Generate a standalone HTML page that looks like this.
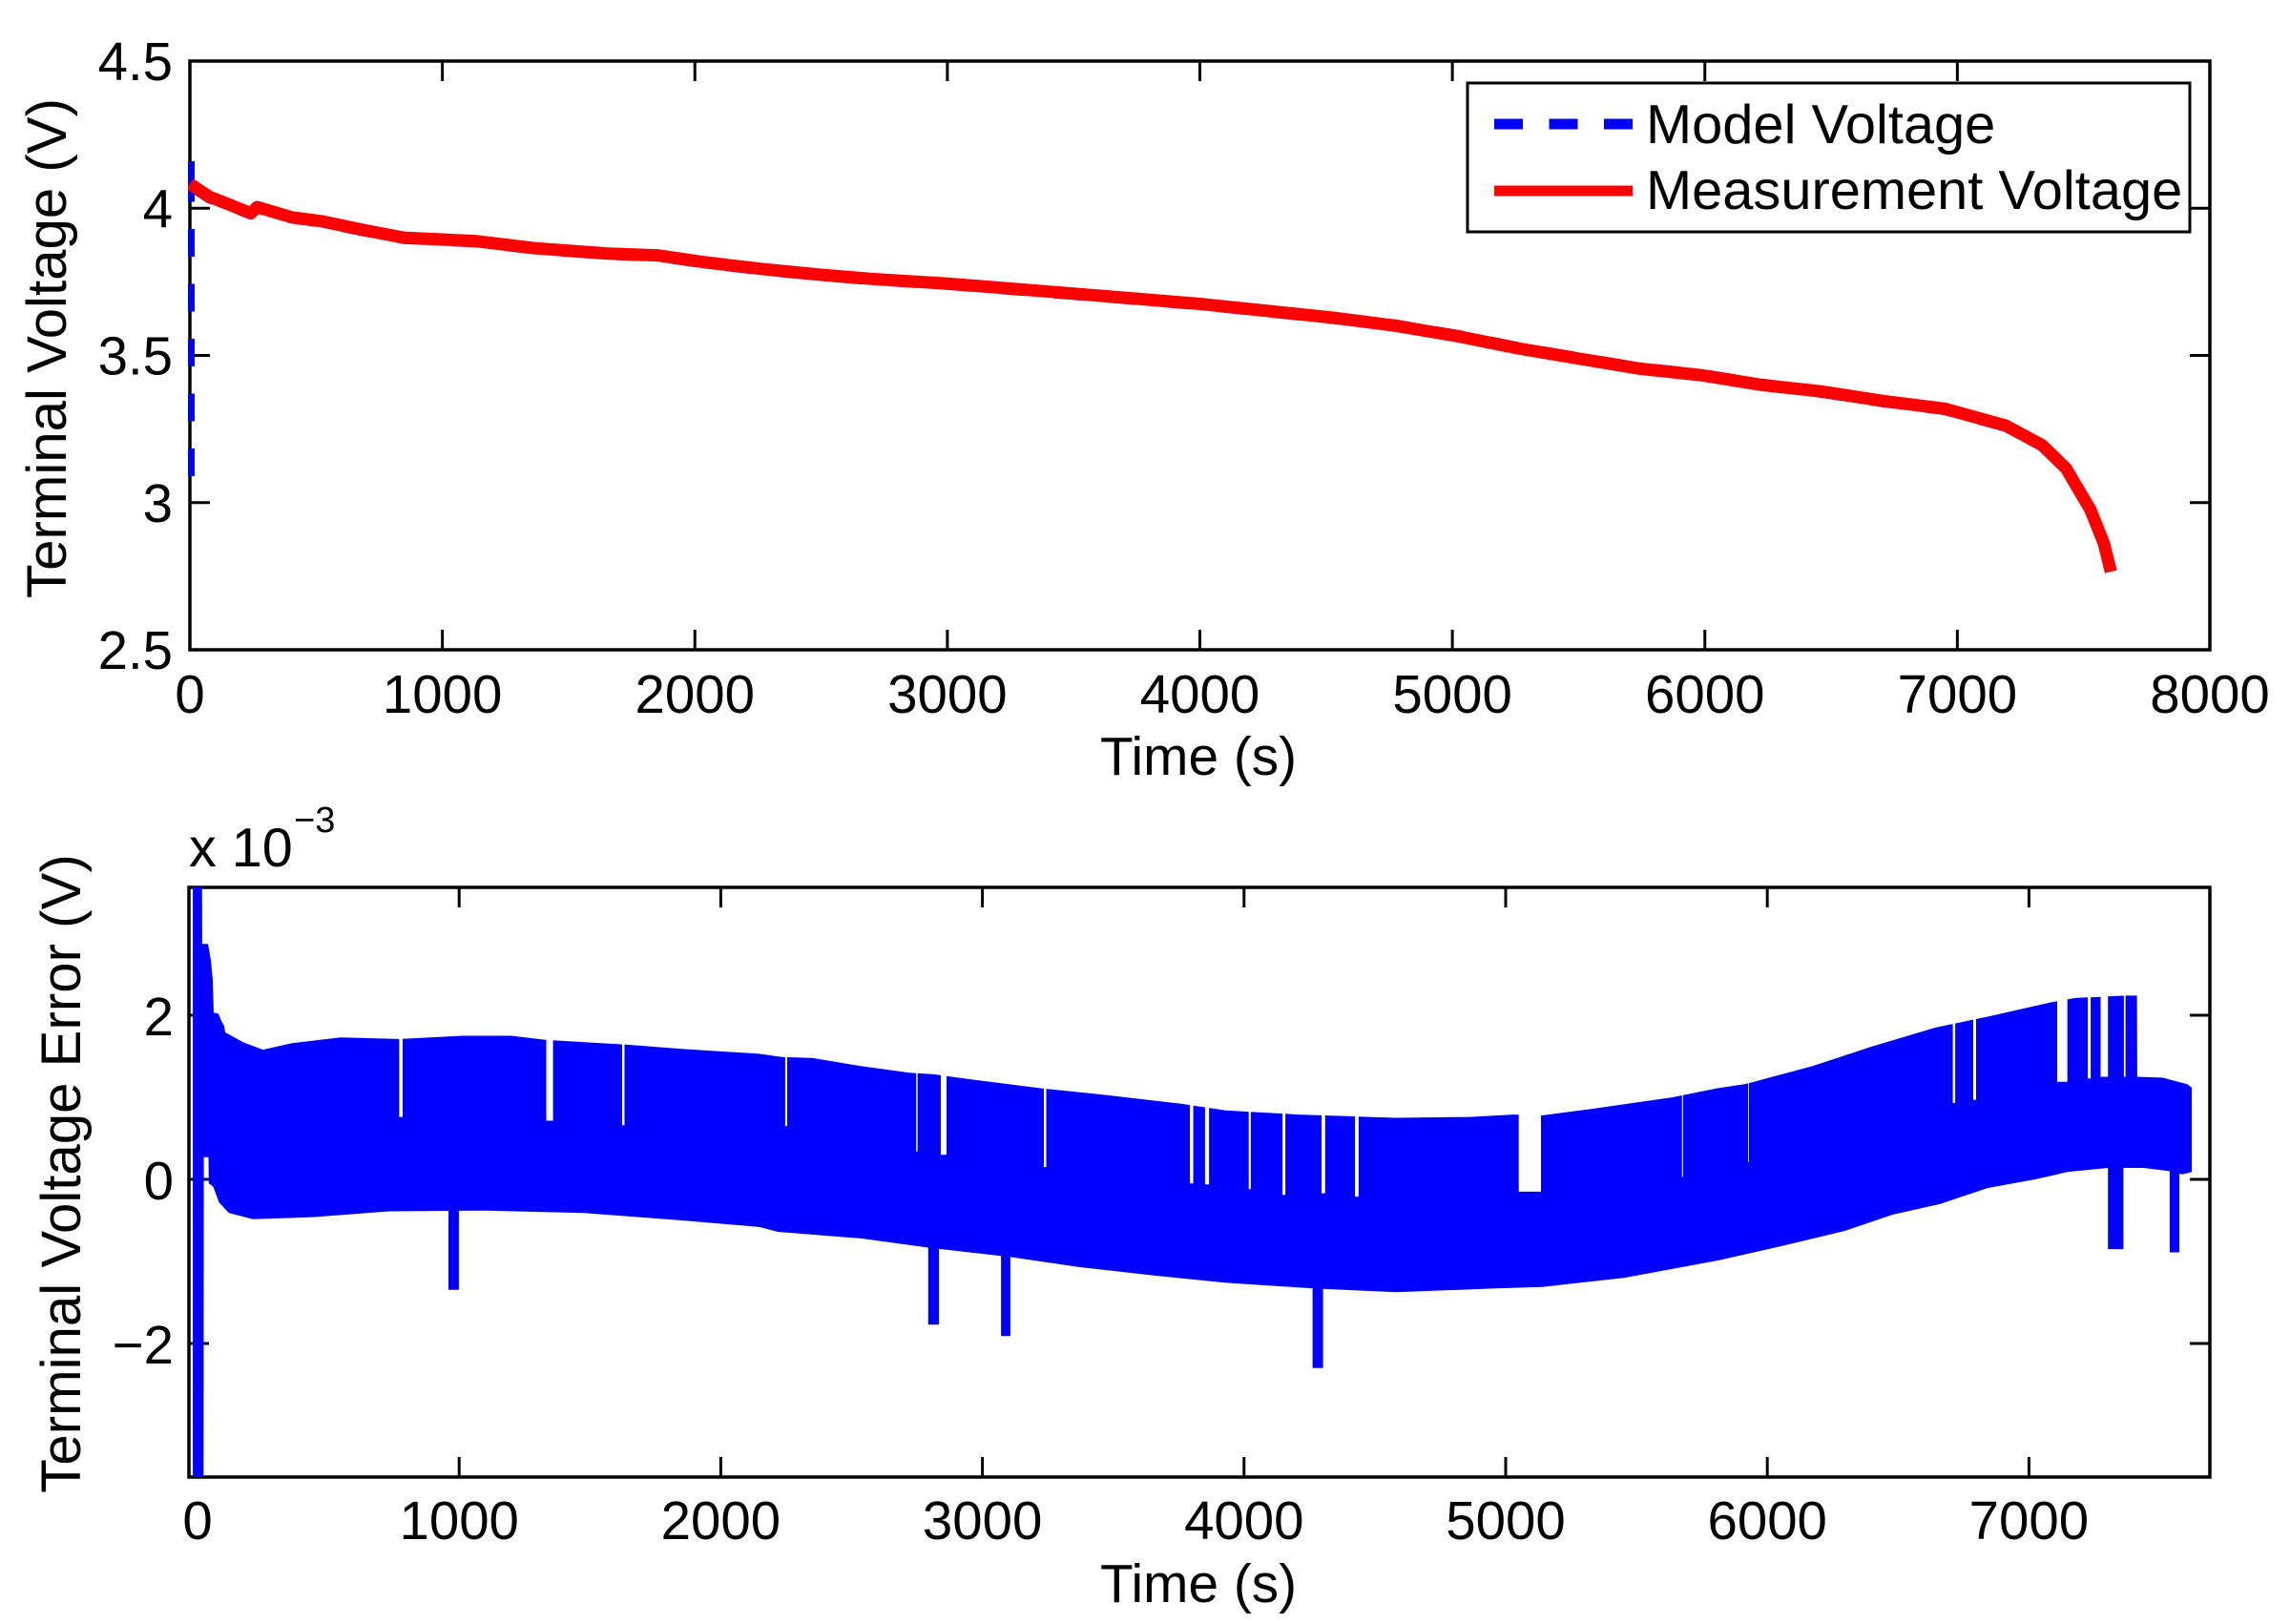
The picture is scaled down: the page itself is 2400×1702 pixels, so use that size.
<!DOCTYPE html>
<html lang="en">
<head>
<meta charset="utf-8">
<title>Terminal voltage and voltage error</title>
<style>
html,body{margin:0;padding:0;background:#fff;}
svg{display:block;}
text{font-family:"Liberation Sans",Arial,sans-serif;fill:#000;}
</style>
</head>
<body>
<svg id="figure" xmlns="http://www.w3.org/2000/svg" width="2400" height="1702" viewBox="0 0 2400 1702">
  <defs>
    <clipPath id="clip-top"><rect x="197" y="64" width="2119" height="617"/></clipPath>
    <clipPath id="clip-bottom"><rect x="199" y="930" width="2117" height="618"/></clipPath>
  </defs>
  <rect x="0" y="0" width="2400" height="1702" fill="#fff"/>
  <g id="top-chart"></g>
  <g id="bottom-chart"></g>
  <g id="legend">
    <rect x="1538" y="87" width="757" height="156" fill="#fff" stroke="#000" stroke-width="3"/>
    <line x1="1566" y1="130" x2="1711" y2="130" stroke="#0000ff" stroke-width="11" stroke-dasharray="30 27.5"/>
    <text x="1725" y="150" font-size="57.8">Model Voltage</text>
    <line x1="1566" y1="200" x2="1711" y2="200" stroke="#ff0000" stroke-width="11"/>
    <text x="1725" y="219" font-size="57.8">Measurement Voltage</text>
  </g>
</svg>
<script>
// ---- Top chart data ----
const topXTicks = [0, 1000, 2000, 3000, 4000, 5000, 6000, 7000, 8000];
const topYTicks = [2.5, 3, 3.5, 4, 4.5];
const topYTickLabels = ['2.5', '3', '3.5', '4', '4.5'];
const measureTime = [0, 77, 154, 241, 266, 405, 520, 694, 848, 1137, 1369, 1658, 1851, 2044, 2271, 2500, 2700, 3000, 3500, 4000, 4539, 4780, 5021, 5261, 5502, 5743, 5985, 6225, 6466, 6708, 6949, 7190, 7335, 7431, 7527, 7580, 7608];
const measureVolt = [4.083, 4.039, 4.013, 3.983, 4.004, 3.969, 3.956, 3.925, 3.90, 3.888, 3.864, 3.846, 3.84, 3.816, 3.793, 3.774, 3.76, 3.744, 3.71, 3.675, 3.627, 3.60, 3.565, 3.524, 3.489, 3.455, 3.433, 3.40, 3.377, 3.345, 3.319, 3.262, 3.196, 3.116, 2.976, 2.862, 2.765];
const modelStartTime = [0, 0];
const modelStartVolt = [3.09, 4.16];
const modelTime = [0, 77, 154, 241, 266, 405, 520, 694, 848, 1137, 1369, 1658, 1851, 2044, 2271, 2500, 2700, 3000, 3500, 4000, 4539, 4780, 5021, 5261, 5502, 5743, 5985, 6225, 6466, 6708, 6949, 7190, 7335, 7431, 7527, 7580, 7608];
const modelVolt = [4.08, 4.036, 4.011, 3.981, 4.002, 3.967, 3.954, 3.923, 3.898, 3.886, 3.862, 3.844, 3.838, 3.814, 3.791, 3.772, 3.758, 3.742, 3.708, 3.673, 3.625, 3.602, 3.567, 3.526, 3.491, 3.457, 3.435, 3.402, 3.375, 3.343, 3.317, 3.26, 3.194, 3.114, 2.974, 2.86, 2.763];

// ---- Bottom chart data (values in units of 1e-3 V) ----
const errXTicks = [0, 1000, 2000, 3000, 4000, 5000, 6000, 7000];
const errYTicks = [-2, 0, 2];
const errYTickLabels = ['\u22122', '0', '2'];
const upperTime = [-18, 17, 18, 40, 51, 58, 62, 80, 91, 102, 106, 124, 175, 250, 361, 547, 770, 1013, 1199, 1329, 1627, 1850, 2147, 2236, 2349, 2535, 2721, 2814, 3000, 3223, 3465, 3763, 3930, 4209, 4395, 4581, 4861, 5028, 5142, 5320, 5638, 5809, 5918, 6173, 6400, 6643, 6838, 7079, 7177, 7371, 7413, 7414, 7510, 7605, 7622];
const upperVal = [3.8, 3.8, 2.87, 2.87, 2.67, 2.44, 2.03, 2.02, 1.93, 1.87, 1.79, 1.76, 1.67, 1.58, 1.66, 1.73, 1.71, 1.75, 1.75, 1.70, 1.645, 1.59, 1.53, 1.49, 1.48, 1.38, 1.30, 1.28, 1.20, 1.11, 1.03, 0.92, 0.84, 0.79, 0.77, 0.75, 0.76, 0.79, 0.78, 0.855, 1.0, 1.11, 1.163, 1.38, 1.62, 1.85, 1.98, 2.155, 2.21, 2.24, 2.24, 1.25, 1.24, 1.16, 1.12];
const lowerTime = [-18, 23, 24, 42, 43, 60, 82, 120, 212, 361, 440, 733, 1105, 1477, 1850, 2147, 2218, 2535, 2814, 3093, 3372, 3651, 3930, 4265, 4581, 4953, 5142, 5452, 5810, 6053, 6296, 6479, 6661, 6843, 7024, 7147, 7304, 7438, 7537, 7587, 7622];
const lowerVal = [-3.8, -3.8, 0.27, 0.27, -0.05, -0.09, -0.28, -0.41, -0.485, -0.47, -0.46, -0.39, -0.38, -0.41, -0.5, -0.58, -0.64, -0.72, -0.84, -0.94, -1.07, -1.17, -1.26, -1.33, -1.375, -1.33, -1.31, -1.2, -0.99, -0.814, -0.628, -0.43, -0.3, -0.105, 0, 0.09, 0.14, 0.14, 0.10, 0.06, 0.09];
// White gaps that cut into the upper edge of the band
const notchStart = [771, 1333, 1623, 2246, 2747, 2841, 3235, 3793, 3851, 4018, 4147, 4296, 4424, 5050, 5674, 5927, 6709, 6787, 7108, 7225, 7274, 7363];
const notchEnd = [784, 1359, 1632, 2254, 2752, 2863, 3244, 3806, 3866, 4026, 4158, 4310, 4438, 5135, 5678, 5930, 6718, 6798, 7147, 7236, 7302, 7369];
const notchFloor = [0.76, 0.715, 0.66, 0.65, 0.34, 0.30, 0.15, -0.05, -0.06, -0.12, -0.19, -0.17, -0.21, -0.15, 0.03, 0.21, 0.93, 0.97, 1.19, 1.23, 1.25, 1.25];
// Downward spikes below the lower edge of the band
const spikeStart = [959, 2793, 3071, 4262, 7302, 7538];
const spikeEnd = [999, 2834, 3107, 4302, 7361, 7575];
const spikeFloor = [-1.345, -1.77, -1.91, -2.30, -0.85, -0.89];

// ---- Axis functions ----
const topX = t => 199 + (t / 8000) * 2117;
const topY = v => 681 - ((v - 2.5) / 2) * 617;
const errX = t => 207 + t * 0.2742;
const errY = v => 1236 - v * 86;

const NS = 'http://www.w3.org/2000/svg';
function make(parent, tag, attrs, text) {
  const el = document.createElementNS(NS, tag);
  for (const k in attrs) el.setAttribute(k, attrs[k]);
  if (text !== undefined) el.textContent = text;
  parent.appendChild(el);
  return el;
}
function linePath(xs, ys, fx, fy) {
  return xs.map((x, i) => (i ? 'L' : 'M') + fx(x).toFixed(1) + ' ' + fy(ys[i]).toFixed(1)).join('');
}
function interp(ts, vs, t) {
  if (t <= ts[0]) return vs[0];
  for (let i = 1; i < ts.length; i++) {
    if (t <= ts[i]) {
      const s = ts[i] === ts[i - 1] ? 1 : (t - ts[i - 1]) / (ts[i] - ts[i - 1]);
      return vs[i - 1] + (vs[i] - vs[i - 1]) * s;
    }
  }
  return vs[vs.length - 1];
}
// Walks an edge and inserts rectangular excursions (notches or spikes)
function edgeWithCuts(ts, vs, starts, ends, levels) {
  const pts = [];
  let c = 0;
  for (let i = 0; i < ts.length; i++) {
    while (c < starts.length && starts[c] <= ts[i]) {
      pts.push([starts[c], interp(ts, vs, starts[c])]);
      pts.push([starts[c], levels[c]]);
      pts.push([ends[c], levels[c]]);
      pts.push([ends[c], interp(ts, vs, ends[c])]);
      c++;
    }
    if (c > 0 && ts[i] < ends[c - 1]) continue;
    pts.push([ts[i], vs[i]]);
  }
  return pts;
}

function drawFrame(g, left, top, right, bottom) {
  const frame = make(g, 'rect', {x: left, y: top, width: right - left, height: bottom - top, fill: 'none', stroke: '#000', 'stroke-width': 3.5});
  
  
}
function drawTickPair(g, x1, y1, x2, y2, name) {
  const tick = make(g, 'line', {x1: x1, y1: y1, x2: x2, y2: y2, stroke: '#000', 'stroke-width': 3});
  
  
}
function drawLabel(g, x, y, size, anchor, str, name, rotate) {
  const attrs = {x: x, y: y, 'font-size': size, 'text-anchor': anchor};
  if (rotate) attrs.transform = 'rotate(-90 ' + x + ' ' + y + ')';
  const t = make(g, 'text', attrs, str);
  
  
}

// ---- Top chart ----
const topG = document.getElementById('top-chart');
drawFrame(topG, 199, 64, 2316, 681);
topXTicks.forEach(v => {
  drawTickPair(topG, topX(v), 681, topX(v), 660, 'x-tick-bottom-' + v);
  drawTickPair(topG, topX(v), 64, topX(v), 85, 'x-tick-top-' + v);
  drawLabel(topG, topX(v), 747, 56.4, 'middle', String(v), 'x-tick-label-' + v);
});
topYTicks.forEach((v, i) => {
  drawTickPair(topG, 199, topY(v), 220, topY(v), 'y-tick-left-' + topYTickLabels[i]);
  drawTickPair(topG, 2316, topY(v), 2295, topY(v), 'y-tick-right-' + topYTickLabels[i]);
  drawLabel(topG, 181, topY(v) + 20, 56.4, 'end', topYTickLabels[i], 'y-tick-label-' + topYTickLabels[i]);
});
drawLabel(topG, 1256, 812, 56.8, 'middle', 'Time (s)', 'x-axis-title');
drawLabel(topG, 69, 365, 58.2, 'middle', 'Terminal Voltage (V)', 'y-axis-title', true);

const topSeries = make(topG, 'g', {'clip-path': 'url(#clip-top)'});


const modelStart = make(topSeries, 'path', {d: linePath(modelStartTime, modelStartVolt, topX, topY), fill: 'none', stroke: '#0000ff', 'stroke-width': 10, 'stroke-dasharray': '29 28.5 29 28.5 29 28.5 29 28.5 29 28.5 44 0'});


const modelLine = make(topSeries, 'path', {d: linePath(modelTime, modelVolt, topX, topY), fill: 'none', stroke: '#0000ff', 'stroke-width': 12, 'stroke-dasharray': '29 28.6', 'stroke-linejoin': 'round'});


const measureLine = make(topSeries, 'path', {d: linePath(measureTime, measureVolt, topX, topY), fill: 'none', stroke: '#ff0000', 'stroke-width': 13, 'stroke-linejoin': 'round'});



// ---- Bottom chart ----
const botG = document.getElementById('bottom-chart');
drawFrame(botG, 198, 930, 2316, 1548);
errXTicks.forEach(v => {
  drawTickPair(botG, errX(v), 1548, errX(v), 1527, 'error-x-tick-bottom-' + v);
  drawTickPair(botG, errX(v), 930, errX(v), 951, 'error-x-tick-top-' + v);
  drawLabel(botG, errX(v), 1613, 56.4, 'middle', String(v), 'error-x-tick-label-' + v);
});
errYTicks.forEach((v, i) => {
  drawTickPair(botG, 198, errY(v), 219, errY(v), 'error-y-tick-left-' + v);
  drawTickPair(botG, 2316, errY(v), 2295, errY(v), 'error-y-tick-right-' + v);
  drawLabel(botG, 182, errY(v) + 21, 56.4, 'end', errYTickLabels[i], 'error-y-tick-label-' + v);
});
drawLabel(botG, 1256, 1679, 56.8, 'middle', 'Time (s)', 'error-x-axis-title');
drawLabel(botG, 84, 1230, 58.2, 'middle', 'Terminal Voltage Error (V)', 'error-y-axis-title', true);
drawLabel(botG, 198, 908, 57.5, 'start', 'x 10', 'error-axis-multiplier');
drawLabel(botG, 308, 872, 38, 'start', '\u22123', 'error-axis-multiplier-exponent');

const upperEdge = edgeWithCuts(upperTime, upperVal, notchStart, notchEnd, notchFloor);
const lowerEdge = edgeWithCuts(lowerTime, lowerVal, spikeStart, spikeEnd, spikeFloor);
const bandPoints = upperEdge.concat(lowerEdge.slice().reverse());
const band = make(botG, 'path', {
  d: bandPoints.map((p, i) => (i ? 'L' : 'M') + errX(p[0]).toFixed(1) + ' ' + errY(p[1]).toFixed(1)).join('') + 'Z',
  fill: '#0000ff',
  'clip-path': 'url(#clip-bottom)'
});


</script>
</body>
</html>
